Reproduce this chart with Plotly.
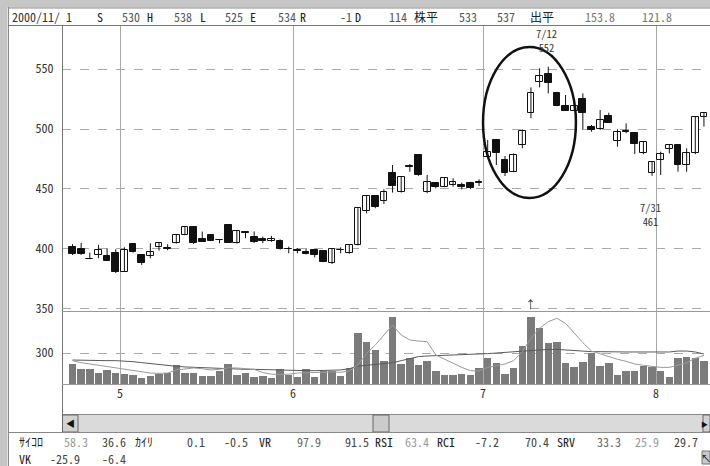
import plotly.graph_objects as go

# ---------------- data ----------------
OPEN = [402, 400, 391.5, 395, 394.2, 396.4, 381.2, 404.2, 395, 394.2,
        402, 401, 404.8, 411.7, 418.6, 408.4, 411.7, 407.5, 420, 404.8,
        413.6, 409.8, 408, 406.4, 407, 399.8, 398.6, 397.8, 399.2, 398.6,
        388.1, 399.2, 396.4, 403.3, 432, 444.4, 440, 463, 447.2, 468.6,
        478.3, 447.2, 454.7, 452, 453.3, 453.3, 455.3, 455.3, 476.4, 490.8,
        474.2, 464.4, 486.7, 513, 538.9, 545.8, 529.7, 519.2, 515.3, 524.7,
        502, 499.7, 511.1, 490.3, 497.8, 496.9, 479.7, 463, 474.2, 483.1,
        486.7, 470, 479.7, 509.7]
HIGH = [404, 405, 397, 403.4, 400.6, 399.8, 401.4, 404.5, 395.5, 404.8,
        405.3, 404, 412, 419, 419, 414.5, 412, 408, 420, 415.5,
        414, 414.5, 410.3, 410.9, 408, 402, 400.6, 400.6, 399.5, 399,
        400.5, 401.4, 404, 434, 445, 445, 449.7, 470, 460, 470.8,
        478.5, 461.7, 455, 459.5, 458.9, 455.3, 456, 458, 490.8, 491,
        477.5, 479.7, 499.7, 534.7, 550.6, 552, 531, 528.3, 525.6, 529.7,
        503.3, 515.8, 513.6, 499.7, 504.7, 497.5, 489.5, 473, 481.1, 487,
        487, 483.9, 510, 514]
LOW = [395, 395, 391.5, 392.3, 390, 380, 381, 397, 386.7, 392.3,
       398.6, 399, 404.5, 411.5, 404.2, 406, 406.5, 404.8, 405, 404.5,
       409, 405, 404.8, 406, 399.5, 396.4, 396.4, 395.5, 393, 389,
       387.5, 396.4, 396, 403, 429.7, 434, 437.5, 447, 447, 464.4,
       461, 446.5, 450.5, 451.5, 452, 449.7, 450, 452.5, 476, 470,
       460.8, 464, 483.9, 508.9, 534.7, 529.7, 519, 515, 515, 499.2,
       497.8, 499.2, 505, 485.3, 496.5, 479.2, 479, 461, 461.7, 479.7,
       464.4, 464.4, 479, 502]
CLOSE = [396, 396, 391.5, 399.2, 390.3, 381.2, 399.2, 397.8, 388.6, 397.3,
         404.8, 400, 411.7, 418.6, 404.8, 406.1, 407, 407.5, 405.3, 415,
         413.6, 405.6, 406.4, 408.4, 399.8, 399.8, 398.6, 395.9, 395, 389.5,
         400, 399.2, 403.4, 433.9, 444.4, 435.3, 447.2, 452.5, 459.7, 468.6,
         461.7, 456.1, 452, 458.9, 456.1, 451.9, 450.6, 455.3, 480.5, 479.7,
         463, 478.3, 498.6, 529.7, 544.4, 538, 519.2, 515.3, 519.2, 513,
         499.2, 507.5, 505.3, 497.8, 497.8, 487.5, 488.9, 472.2, 478.9, 486.7,
         470, 479.7, 509.7, 513.6]
VOLUME = [194, 148, 148, 109, 133, 109, 97, 87, 58, 77,
          94, 104, 181, 109, 109, 77, 77, 123, 194, 87,
          109, 68, 77, 58, 142, 87, 68, 142, 68, 126,
          126, 77, 158, 491, 409, 329, 223, 651, 194, 255,
          184, 226, 123, 87, 87, 97, 87, 152, 255, 200,
          97, 152, 371, 646, 539, 394, 404, 206, 162, 216,
          297, 174, 206, 87, 123, 123, 174, 162, 123, 65,
          255, 264, 249, 223]
VOL_MA_SHORT = [226, 206, 194, 181, 168, 155, 142, 129, 116, 106,
                103, 106, 136, 148, 155, 148, 136, 142, 155, 155,
                148, 142, 110, 95, 92, 95, 106, 110, 110, 113,
                116, 113, 126, 184, 297, 377, 474, 571, 474, 426,
                416, 410, 281, 239, 200, 161, 129, 126, 161, 177,
                194, 226, 313, 442, 539, 603, 636, 587, 490, 400,
                319, 290, 265, 239, 219, 194, 181, 171, 161, 161,
                181, 206, 248, 277]
VOL_MA_LONG = [232, 229, 229, 226, 226, 226, 223, 216, 207, 197,
               187, 177, 171, 165, 161, 158, 155, 152, 148, 145,
               142, 142, 139, 136, 136, 132, 132, 129, 129, 129,
               129, 136, 148, 174, 181, 187, 194, 206, 226, 248,
               265, 271, 274, 277, 277, 281, 284, 287, 294, 300,
               306, 316, 323, 329, 332, 335, 335, 329, 323, 316,
               313, 313, 310, 310, 310, 310, 310, 310, 306, 310,
               319, 319, 310, 290]
MONTH_LABELS = ["5", "6", "7", "8"]
MONTH_FIRST_BAR = [6, 26, 48, 68]
PRICE_TICKS = [350, 400, 450, 500, 550]
VOLUME_TICKS = [300]
HIGH_MARK = {"bar": 55, "date": "7/12", "value": 552}
LOW_MARK = {"bar": 67, "date": "7/31", "value": 461}

HEADER = [("2000/11/\u00a01", 10, "#333"), ("S", 95, "#222"), ("530", 120, "#555"),
          ("H", 145, "#222"), ("538", 172, "#555"), ("L", 198, "#222"),
          ("525", 223, "#555"), ("E", 248, "#222"), ("534", 276, "#555"),
          ("R", 298, "#222"), ("-1", 338, "#555"), ("D", 353, "#222"),
          ("114", 387, "#555"), ("株平", 412, "#222"), ("533", 457, "#555"),
          ("537", 495, "#555"), ("出平", 528, "#222"), ("153.8", 583, "#777"),
          ("121.8", 640, "#777")]
FOOT1 = [("ｻｲｺﾛ", 17, "#222"), ("58.3", 62, "#999"), ("36.6", 100, "#444"),
         ("ｶｲﾘ", 133, "#222"), ("0.1", 185, "#444"), ("-0.5", 222, "#444"),
         ("VR", 257, "#222"), ("97.9", 295, "#666"), ("91.5", 343, "#444"),
         ("RSI", 373, "#222"), ("63.4", 403, "#999"), ("RCI", 435, "#222"),
         ("-7.2", 473, "#444"), ("70.4", 523, "#444"), ("SRV", 555, "#222"),
         ("33.3", 595, "#666"), ("25.9", 633, "#999"), ("29.7", 672, "#444")]
FOOT2 = [("VK", 17, "#222"), ("-25.9", 48, "#444"), ("-6.4", 100, "#444")]

# ---------------- geometry ----------------
W, H = 710, 466
ML, MR, MT, MB = 62, 2, 25, 82
PW, PH = W - ML - MR, H - MT - MB
STEP = 8.65
X0 = 72.5


def px(xp):
    return (xp - ML) / PW


def py(yp):
    return (H - MB - yp) / PH


FONT = "Noto Sans Mono CJK JP, Noto Sans CJK JP, Liberation Mono, monospace"
n = len(OPEN)
idx = list(range(n))
xr = [(ML - X0) / STEP, (W - MR - X0) / STEP]
split = py(311)

fig = go.Figure()

# wicks
wx, wy = [], []
for i in idx:
    wx += [i, i, None]
    wy += [LOW[i], HIGH[i], None]
fig.add_trace(go.Scatter(x=wx, y=wy, mode="lines", line=dict(color="#111", width=1),
                         hoverinfo="skip", showlegend=False, xaxis="x", yaxis="y"))

# bodies
base = [min(o, c) for o, c in zip(OPEN, CLOSE)]
hgt = [max(abs(c - o), 0.35) for o, c in zip(OPEN, CLOSE)]
col = ["#ffffff" if c > o else "#111111" for o, c in zip(OPEN, CLOSE)]
fig.add_trace(go.Bar(x=idx, y=hgt, base=base, width=0.78,
                     marker=dict(color=col, line=dict(color="#111", width=1)),
                     showlegend=False, xaxis="x", yaxis="y"))

# volume
fig.add_trace(go.Bar(x=idx, y=VOLUME, width=0.86, marker=dict(color="#7b7b7b", line=dict(width=0)),
                     showlegend=False, xaxis="x2", yaxis="y2"))
fig.add_trace(go.Scatter(x=idx, y=VOL_MA_LONG, mode="lines", line=dict(color="#5a5a5a", width=1),
                         showlegend=False, xaxis="x2", yaxis="y2"))
fig.add_trace(go.Scatter(x=idx, y=VOL_MA_SHORT, mode="lines", line=dict(color="#9a9a9a", width=1),
                         showlegend=False, xaxis="x2", yaxis="y2"))

grid_x = [m - 0.5 for m in MONTH_FIRST_BAR]
axfont = dict(family=FONT, size=12, color="#333")
fig.update_layout(
    template="none",
    width=W, height=H, autosize=False,
    margin=dict(l=ML, r=MR, t=MT, b=MB, pad=0),
    paper_bgcolor="white", plot_bgcolor="white",
    barmode="overlay", bargap=0, showlegend=False,
    xaxis=dict(domain=[0, 1], range=xr, anchor="y", tickvals=grid_x, showticklabels=False,
               showgrid=True, gridcolor="#a8a8a8", gridwidth=1, zeroline=False, showline=False,
               ticks="", automargin=False),
    xaxis2=dict(domain=[0, 1], range=xr, anchor="y2", matches="x", tickvals=grid_x,
                showticklabels=False, showgrid=True, gridcolor="#a8a8a8", gridwidth=1,
                zeroline=False, showline=False, ticks="", automargin=False),
    yaxis=dict(domain=[split, 1], range=[348.3, 586.7], tickvals=PRICE_TICKS,
               showgrid=True, gridcolor="#aaaaaa", griddash="dash", gridwidth=1,
               zeroline=False, showline=False, ticks="outside", ticklen=5,
               tickcolor="rgba(0,0,0,0)", tickfont=axfont, automargin=False),
    yaxis2=dict(domain=[0, split], range=[0, 706.5], tickvals=VOLUME_TICKS,
                showgrid=True, gridcolor="#aaaaaa", griddash="dash", gridwidth=1,
                zeroline=False, showline=False, ticks="outside", ticklen=5,
                tickcolor="rgba(0,0,0,0)", tickfont=axfont, automargin=False),
)

shapes = []


def rect(x0, y0, x1, y1, fill, line=None, lw=0):
    shapes.append(dict(type="rect", xref="paper", yref="paper", x0=px(x0), x1=px(x1),
                       y0=py(y1), y1=py(y0), fillcolor=fill,
                       line=dict(color=line or fill, width=lw), layer="above"))


def hline(yp, x0, x1, color, w=1):
    shapes.append(dict(type="line", xref="paper", yref="paper", x0=px(x0), x1=px(x1),
                       y0=py(yp), y1=py(yp), line=dict(color=color, width=w), layer="above"))


def vline(xp, y0, y1, color, w=1):
    shapes.append(dict(type="line", xref="paper", yref="paper", x0=px(xp), x1=px(xp),
                       y0=py(y0), y1=py(y1), line=dict(color=color, width=w), layer="above"))


# window frame
rect(0, 0, 7.5, H, "#c6c6c6")
rect(0, 0, W, 7.5, "#c6c6c6")
vline(8.5, 7, H, "#8c8c8c")
hline(8, 8, W, "#8c8c8c")
hline(25.5, 8, W, "#777777")
vline(62.5, 25, 432, "#777777")
hline(311.5, 62, W, "#999999")
hline(384.5, 62, W, "#999999")
# scrollbar
hline(414.5, 62, W, "#888888")
rect(78, 415, 703, 432, "#dadada")
rect(62.5, 415, 78, 432, "#d2d2d2", "#666666", 1)
rect(373, 415, 389, 432, "#cbcbcb", "#666666", 1)
rect(703, 415, W, 432, "#d2d2d2", "#666666", 1)
hline(432.5, 8, W, "#888888")
# resize grip
rect(702, 451, W, 464, "#c8c8c8", "#777777", 1)

# ellipse around the July rally
shapes.append(dict(type="circle", xref="x", yref="y", x0=47.46, x1=58.2, y0=442.5, y1=568.3,
                   line=dict(color="#111", width=2.5), layer="above"))
fig.update_layout(shapes=shapes)

ann = []


def text(t, x, y, color="#333", size=12, anchor="left"):
    ann.append(dict(text=t, x=px(x), y=py(y), xref="paper", yref="paper", showarrow=False,
                    xanchor=anchor, yanchor="middle", font=dict(family=FONT, size=size, color=color)))


for t, x, c in HEADER:
    text(t, x, 16.5, c)
for t, x, c in FOOT1:
    text(t, x, 441.5, c)
for t, x, c in FOOT2:
    text(t, x, 458, c)
text("◀", 70, 423.5, "#111", 9, "center")
text("▶", 709.5, 423.5, "#111", 7, "right")
text("↖", 706, 457.5, "#111", 10, "center")
text("↑", 530, 304, "#333", 11, "center")

# month labels under the volume pane
for lab, m in zip(MONTH_LABELS, MONTH_FIRST_BAR):
    ann.append(dict(text=lab, x=m - 0.5, y=py(392.5), xref="x2", yref="paper", showarrow=False,
                    xanchor="center", yanchor="middle", font=axfont))

for mark, yc in ((HIGH_MARK, 40), (LOW_MARK, 214.5)):
    ann.append(dict(text=mark["date"] + "<br>" + str(mark["value"]), x=mark["bar"] - 0.2,
                    y=py(yc), xref="x", yref="paper", showarrow=False,
                    xanchor="center", yanchor="middle", align="center",
                    font=dict(family=FONT, size=10.5, color="#333")))
fig.update_layout(annotations=ann)

fig.write_html("out.html", config={"displayModeBar": False},
               post_script="document.body.style.margin='0';document.body.style.overflow='hidden';")
